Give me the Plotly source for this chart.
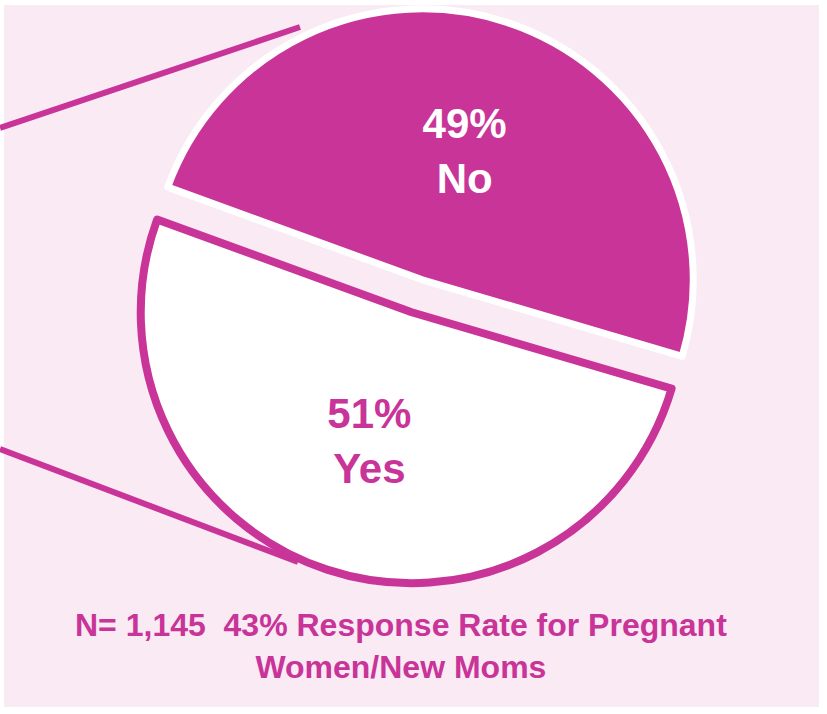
import plotly.graph_objects as go

# Data
labels = ["No", "Yes"]
values = [49, 51]
footer_text = "N= 1,145  43% Response Rate for Pregnant<br>Women/New Moms"

MAGENTA = "#C83498"
PINK_BG = "#FAEAF4"
W, H = 827, 714
FONT = "Liberation Sans, Arial, sans-serif"

fig = go.Figure()
fig.add_trace(go.Pie(
    labels=labels,
    values=values,
    sort=False,
    direction="clockwise",
    rotation=-70,
    pull=[0.063, 0.063],
    marker=dict(colors=[MAGENTA, "white"],
                line=dict(color=["white", MAGENTA], width=[7, 8])),
    texttemplate="<b>%{value}%<br>%{label}</b>",
    textposition="inside",
    insidetextorientation="horizontal",
    insidetextfont=dict(family=FONT, size=42, color=["white", MAGENTA]),
    domain=dict(x=[(417 - 288) / W, (417 + 288) / W], y=[1 - (296 + 288) / H, 1 - (296 - 288) / H]),
    showlegend=False,
    hoverinfo="label+percent",
))

def px(x):
    return x / W

def py(y):
    return 1 - y / H

shapes = [
    dict(type="rect", xref="paper", yref="paper", x0=px(4), x1=px(819), y0=py(707), y1=py(5),
         fillcolor=PINK_BG, line=dict(width=0), layer="below"),
    dict(type="line", xref="paper", yref="paper", x0=px(0), y0=py(128), x1=px(300), y1=py(27),
         line=dict(color=MAGENTA, width=6), layer="below"),
    dict(type="line", xref="paper", yref="paper", x0=px(0), y0=py(449), x1=px(298), y1=py(562),
         line=dict(color=MAGENTA, width=6), layer="below"),
]

fig.update_layout(
    width=W, height=H,
    margin=dict(l=0, r=0, t=0, b=0),
    paper_bgcolor="white",
    plot_bgcolor="white",
    shapes=shapes,
    annotations=[dict(
        text="<b>" + footer_text + "</b>",
        xref="paper", yref="paper", x=px(401), y=py(646),
        xanchor="center", yanchor="middle", showarrow=False,
        font=dict(family=FONT, size=32, color=MAGENTA),
        align="center",
    )],
)
fig.write_html("out.html", config={"displayModeBar": False},
               post_script="document.body.style.margin='0px';")
